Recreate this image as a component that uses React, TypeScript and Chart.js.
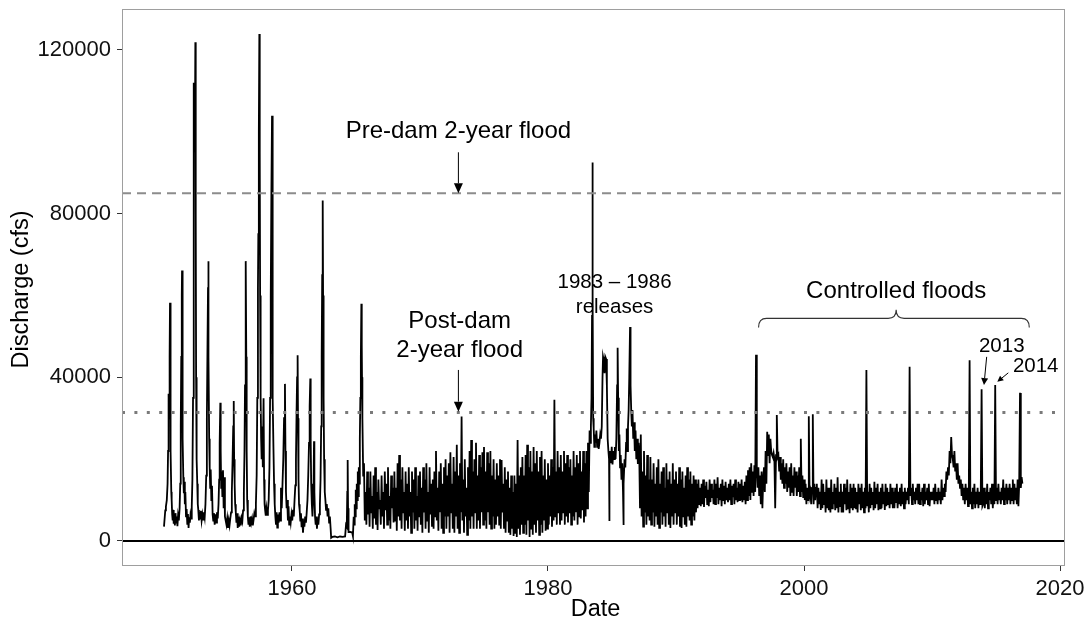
import React, { useEffect, useRef } from 'react';
import { Chart, registerables } from 'chart.js';

Chart.register(...registerables);

const FONT = "'Liberation Sans', Arial, Helvetica, sans-serif";

// ---- axes ----
const xTicks = [1960, 1980, 2000, 2020];
const yTicks = [0, 40000, 80000, 120000];
const xLimits = [1946.72, 2020.39];
const yLimits = [-6110, 130020];

// ---- reference lines (cfs) ----
const preDamTwoYearFlood = 85000;
const postDamTwoYearFlood = 31400;

// ---- discharge, thousand cfs ----
// pre-dam and reservoir filling: [year, kcfs]
const preDamFlow: [number, number][] = [
  [1950.00,3.5],[1950.05,5.5],[1950.10,7.5],[1950.15,8.4],[1950.22,10],[1950.28,14],[1950.32,22],[1950.36,36],[1950.40,30],[1950.44,45],[1950.47,58.2],[1950.50,40],[1950.53,22],[1950.57,12],[1950.60,10],[1950.64,6.5],[1950.68,5],[1950.72,7.6],[1950.76,4.2],[1950.80,6.5],[1950.85,3.8],[1950.90,6.8],[1950.95,4.5],
  [1951.00,6],[1951.05,3.6],[1951.10,6.2],[1951.16,5],[1951.22,8],[1951.27,14],[1951.31,28],[1951.35,45],[1951.39,60],[1951.41,66.1],[1951.44,45],[1951.47,25],[1951.51,15.6],[1951.55,11.7],[1951.59,14.5],[1951.63,9],[1951.67,12],[1951.72,6],[1951.77,7.8],[1951.82,4.2],[1951.87,6.6],[1951.92,3.2],[1951.97,5.8],
  [1952.02,4.5],[1952.07,6.4],[1952.12,5.5],[1952.17,8.5],[1952.22,15],[1952.27,35],[1952.31,70],[1952.34,112],[1952.37,100],[1952.41,95],[1952.45,121.9],[1952.48,80],[1952.51,40],[1952.55,20],[1952.60,14],[1952.64,9],[1952.68,7.6],[1952.73,5],[1952.78,7],[1952.83,5.5],[1952.88,7.4],[1952.94,5],
  [1953.00,6.5],[1953.06,5.2],[1953.12,7],[1953.18,5.8],[1953.24,9],[1953.30,16],[1953.35,30],[1953.40,48],[1953.44,62],[1953.46,68.4],[1953.49,45],[1953.53,25],[1953.57,18],[1953.61,13],[1953.65,17.5],[1953.70,10],[1953.75,13.5],[1953.80,6.5],[1953.85,5],[1953.90,6.8],[1953.96,4],
  [1954.02,6.5],[1954.08,4.5],[1954.14,7],[1954.20,5.5],[1954.26,9],[1954.31,15],[1954.35,24],[1954.40,33.8],[1954.43,22],[1954.47,13],[1954.51,17],[1954.56,11],[1954.61,17.3],[1954.66,8],[1954.71,15.6],[1954.76,6],[1954.82,5],[1954.88,4],[1954.94,5.5],
  [1955.00,3.2],[1955.06,5],[1955.12,3.8],[1955.18,5.5],[1955.24,7],[1955.30,12],[1955.36,20],[1955.41,28],[1955.45,34.2],[1955.48,20],[1955.52,14],[1955.56,9],[1955.61,7],[1955.66,4.5],[1955.71,6.8],[1955.76,3.2],[1955.82,6],[1955.88,3.5],[1955.94,5],
  [1956.00,3.8],[1956.06,5.6],[1956.12,4.8],[1956.18,7.5],[1956.24,12],[1956.29,22],[1956.33,38],[1956.37,55],[1956.40,68.4],[1956.43,45],[1956.46,22],[1956.50,10],[1956.55,6],[1956.60,4],[1956.65,5.8],[1956.70,3.5],[1956.76,6],[1956.82,4.5],[1956.88,5.5],[1956.94,3.8],
  [1957.00,5.2],[1957.06,6.8],[1957.12,6],[1957.18,9],[1957.24,16],[1957.29,35],[1957.34,61.8],[1957.37,75],[1957.41,100],[1957.45,123.9],[1957.48,95],[1957.51,60],[1957.55,35],[1957.59,25],[1957.63,20],[1957.67,28],[1957.72,18],[1957.78,34.9],[1957.82,15],[1957.86,9],[1957.90,7.6],[1957.95,6.2],
  [1958.00,8],[1958.06,6.4],[1958.12,7.5],[1958.18,10],[1958.24,18],[1958.29,35],[1958.34,60],[1958.39,85],[1958.44,103.9],[1958.47,70],[1958.51,35],[1958.55,23],[1958.60,14],[1958.65,9],[1958.70,6],[1958.75,4],[1958.80,7],[1958.85,3.3],[1958.90,6.5],[1958.96,4.5],
  [1959.02,7],[1959.08,5],[1959.14,13],[1959.20,8],[1959.26,14],[1959.32,20],[1959.38,30],[1959.45,38.4],[1959.49,22],[1959.53,12],[1959.58,8],[1959.63,10],[1959.68,5],[1959.73,8.5],[1959.78,4],[1959.84,6],[1959.90,4.5],[1959.96,6.5],
  [1960.02,5],[1960.08,7.6],[1960.14,6],[1960.20,10],[1960.26,13.6],[1960.31,20],[1960.36,32],[1960.40,40],[1960.44,45.4],[1960.47,30],[1960.51,15],[1960.55,9],[1960.60,7.5],[1960.65,5],[1960.70,6.8],[1960.75,3.4],[1960.80,5.5],[1960.86,2],[1960.92,5],[1960.97,3.5],
  [1961.03,6],[1961.09,4.5],[1961.15,7],[1961.21,10],[1961.27,16],[1961.33,24],[1961.38,33],[1961.43,39.7],[1961.46,25],[1961.50,14],[1961.55,9],[1961.60,6],[1961.65,10],[1961.69,15],[1961.72,24.4],[1961.75,12],[1961.80,6],[1961.85,4],[1961.90,6],[1961.95,3],
  [1962.00,5.5],[1962.06,4],[1962.12,6.5],[1962.18,9],[1962.23,15],[1962.28,28],[1962.32,45],[1962.36,65],[1962.40,83.2],[1962.43,60],[1962.47,35],[1962.51,20],[1962.56,12],[1962.61,10],[1962.66,7.6],[1962.72,9],[1962.78,6],[1962.84,8],[1962.90,4.5],[1962.96,6],
  [1963.02,3],[1963.06,0.8],[1963.15,1.0],[1963.35,1.1],[1963.55,0.9],[1963.75,1.1],[1963.95,1.0],[1964.15,1.1],[1964.22,3.9],[1964.28,3.5],[1964.32,12],[1964.35,19.8],[1964.38,8],[1964.42,2.2],[1964.55,2.2],[1964.70,2.1],[1964.76,1.2],[1964.82,5.9],[1964.86,4],[1964.90,9],[1964.94,6],[1964.98,12.5],
  [1965.02,8],[1965.06,14],[1965.10,10],[1965.14,17],[1965.18,11],[1965.22,18],[1965.26,14],[1965.30,25],[1965.34,35],[1965.38,45],[1965.42,58],[1965.45,48],[1965.47,40],
];

// post-dam hydropower fluctuations, every 1/16 year from 1965.5
const postDamStart = 1965.5;
const postDamStep = 1 / 16;
const postDamFlow = [
  30, 16, 19, 5, 12, 4, 17, 6.5,
  13, 3.5, 17, 7, 11, 3, 16, 5.5, 18, 4, 12, 2.7, 15, 8, 10, 4,
  16, 6, 12, 3, 17, 7.5, 14, 4, 18, 5, 11, 3, 16, 8, 13, 4.5,
  17, 5, 13, 2.5, 19, 6, 21, 5, 15, 3, 18, 7, 12, 2.5, 17, 5,
  14, 3, 18, 6, 12, 2, 17, 7, 15, 3, 18, 5, 11, 2.5, 16, 6,
  17, 4, 13, 2, 18, 7, 15, 3, 19, 5, 12, 2, 18, 6.5, 14, 3.5,
  15, 3, 17, 6, 22, 5, 13, 2.5, 17, 7, 19, 3, 14, 2, 18, 6,
  20, 3, 16, 6, 19, 2, 21.7, 7, 14, 3, 20.5, 2, 17, 6, 23.5, 3,
  16, 2, 19, 7, 30.4, 5, 15, 2, 20, 6, 13, 1.5, 18, 5, 22, 3,
  24.7, 6, 17, 3, 20, 7, 24, 3, 16, 5, 21, 3, 18, 7, 21.7, 4,
  23, 5, 17, 3, 21.7, 7, 19, 4, 22, 3, 16, 6, 20, 3, 15, 4,
  19, 6, 16, 4, 20, 3, 19.8, 7, 14, 3, 18, 2, 15, 5, 17, 2,
  13, 1.5, 16, 3, 12, 1.2, 16, 2, 14, 1, 24.7, 3, 16, 1.5, 18, 4,
  20.5, 2, 16, 4, 21, 1.5, 23.5, 5, 18, 1, 22, 3, 17, 1.5, 23, 4,
  19, 2, 22, 5, 17, 1.5, 20.5, 4, 22, 2, 16, 5, 20, 2.5, 15, 3,
  19, 4, 16, 6, 20, 3.5, 18, 5, 34.5, 6, 17, 4, 22, 6.8, 18, 4,
  21, 5, 17, 7, 22, 4, 19, 6, 21, 4.5, 18, 6.8, 20, 4, 16, 6,
  22, 5, 18, 7, 21, 4, 19, 6, 22, 5.5, 17, 7.5, 22, 4.5, 19, 6,
  22, 8, 24, 12,
];

// 1983 - 1986 high releases: [year, kcfs]
const releasesFlow: [number, number][] = [
  [1983.25,27],[1983.30,24],[1983.35,28],[1983.40,35],[1983.44,55],[1983.47,92.5],[1983.50,60],[1983.53,30],[1983.57,27.5],[1983.62,23],[1983.67,26],[1983.72,24],[1983.78,27],[1983.84,23],[1983.90,25],[1983.96,22.5],
  [1984.02,24],[1984.08,26],[1984.14,25],[1984.20,28],[1984.26,40],[1984.30,45],[1984.36,44],[1984.42,41],[1984.48,45],[1984.54,44.5],[1984.60,38],[1984.66,25],[1984.72,22],[1984.77,20],[1984.79,4.9],[1984.81,20],[1984.86,22],[1984.92,19],[1984.98,23],
  [1985.04,18.7],[1985.10,22],[1985.16,20],[1985.22,23],[1985.28,20],[1985.34,25],[1985.40,38],[1985.44,47.2],[1985.48,35],[1985.53,22],[1985.58,26],[1985.63,18],[1985.68,21],[1985.74,15],[1985.80,19],[1985.86,12],[1985.89,3.9],[1985.92,14],[1985.98,20],
  [1986.04,18],[1986.10,24],[1986.15,27.5],[1986.20,22],[1986.25,28],[1986.30,32],[1986.35,40],[1986.41,52.3],[1986.45,38],[1986.50,32],[1986.55,28],[1986.60,32],[1986.66,25],[1986.72,29],[1986.78,22],[1986.84,27],[1986.90,20],[1986.96,25],
  [1987.02,18.8],[1987.08,24],
];

// late 1980s to early 1996, every 1/16 year from 1987.125
const lateStart = 1987.125;
const lateStep = 1 / 16;
const lateFlow = [
  22, 8, 26, 6, 17, 3.5, 22, 7, 16, 4, 21, 6, 15, 5,
  20.5, 4, 15, 7, 19, 3.5, 14, 6, 18, 4, 20, 3.2, 14, 7, 17, 4,
  18, 6, 13, 3.5, 19, 7, 15, 4, 17, 3.2, 14, 6, 19, 4, 15, 7,
  17, 4, 14, 6, 18, 3.5, 15, 3.2, 17, 6, 13, 4, 16, 3.5, 18, 6,
  15, 5, 17, 4, 14, 6, 16, 5, 15, 7, 14, 8, 15, 9, 13, 8.5,
  14, 9, 15, 8.3, 13.5, 10.5, 14.5, 9, 12.5, 8.5, 15, 9.5, 14, 10.5, 12.5, 9,
  15, 9, 14, 10.5, 15.6, 9, 13, 10, 14, 8.5, 15, 10, 13.5, 9, 14.5, 10,
  13, 9.5, 14, 10, 15, 9, 13.5, 10.7, 14, 9, 15, 10, 13, 9.5, 14.5, 10,
  14, 10, 15, 9.5, 13.5, 10, 14.5, 9, 16, 10, 17.3, 11, 18, 10, 19, 12,
  17, 11, 18.5, 12,
];

// controlled-flood era, every 1/16 year from 1996.25
const floodEraStart = 1996.25;
const floodEraStep = 1 / 16;
const floodEraFlow = [
  45.5, 17, 13, 18, 11, 16, 9, 17, 8, 15, 18, 12,
  22, 14, 26.7, 21, 26, 19, 25, 22, 21, 20.5, 21.5, 20, 8, 21, 30.8, 20.5,
  21, 17, 20.5, 15, 19, 14, 20, 13, 18, 14, 19, 12, 17, 13, 18, 11,
  19, 12, 16, 11, 18, 13, 17, 11, 16, 12, 18, 11, 25, 12, 16, 10.5,
  15, 10, 14, 9, 13, 10, 30.5, 11, 12, 9, 13, 31, 9, 14, 10, 13,
  14, 8, 13, 9, 12, 7.6, 15, 8, 14, 9, 12, 7, 15, 8, 13, 7.5,
  13, 7, 15, 8, 12, 9, 14, 7.5, 13, 8, 15.6, 7, 12, 8.5, 14, 7,
  12, 7, 14, 9, 13, 7.5, 15, 8, 12, 6.8, 14, 8, 13, 7.5, 14, 8,
  13, 8, 12, 7, 14, 9, 13, 7.5, 14, 8, 12, 7, 13, 8, 41.8, 8.5,
  12, 7, 14, 8, 13, 9, 12, 7.5, 14.5, 8, 13, 9, 14, 7.5, 12, 8,
  13, 8, 14, 9, 12, 7.6, 14, 8.5, 13, 9, 12, 8, 14, 9, 13, 8,
  12, 8, 13, 9.5, 14, 8, 12, 9, 13, 8.5, 14, 9, 12, 8, 13, 9,
  12, 10, 13, 9, 42.6, 11, 13, 9, 14, 10, 12, 9, 13, 10, 14, 9,
  14, 9, 12, 10, 13, 8.5, 14, 9, 12, 10, 13, 9, 14, 8.5, 12, 10,
  12, 10, 13, 9, 14, 10, 12, 9, 13, 10, 12, 9, 15, 10, 13, 11,
  14, 12, 17, 15, 18, 16, 22, 19, 25.4, 21, 20, 18, 22, 17, 19, 15,
  19, 14, 16, 13, 15, 11, 14, 10, 13, 9, 14, 10, 13, 8.5, 12, 44.2,
  9, 12, 8, 13, 9, 14, 8, 12, 9, 13, 8, 12, 9, 13, 37.1, 8.5,
  9, 13, 8, 12, 9, 14, 8, 12, 10, 13, 9, 14, 8, 12, 9, 38.1,
  10, 13, 9, 14, 10, 12, 9, 13, 10, 15, 9, 13, 10, 14, 9, 13,
  10, 14, 9, 13, 10, 15, 9, 14, 10, 13, 9, 15, 8.5, 14, 36.2, 13,
  15.6, 14,
];

// ---- annotations (data coordinates) ----
const textNotes = [
  { text: 'Pre-dam 2-year flood', year: 1973.0, value: 98500, size: 24 },
  { text: 'Post-dam', year: 1973.1, value: 52000, size: 24 },
  { text: '2-year flood', year: 1973.1, value: 45000, size: 24 },
  { text: '1983 \u2013 1986', year: 1985.2, value: 61800, size: 20.5 },
  { text: 'releases', year: 1985.2, value: 55700, size: 20.5 },
  { text: 'Controlled floods', year: 2007.2, value: 59400, size: 24 },
  { text: '2013', year: 2015.45, value: 46200, size: 20.5 },
  { text: '2014', year: 2018.1, value: 41400, size: 20.5 },
];
const arrowNotes = [
  { x1: 1973.0, y1: 95000, x2: 1973.0, y2: 85000, len: 10, half: 4.5 },
  { x1: 1973.0, y1: 41800, x2: 1973.0, y2: 31600, len: 10, half: 4.5 },
  { x1: 2014.27, y1: 45000, x2: 2014.06, y2: 38100, len: 7, half: 3.5 },
  { x1: 2015.96, y1: 41100, x2: 2015.1, y2: 38900, len: 6, half: 3 },
];
const brace = { left: 1996.45, right: 2017.6, mid: 2007.2, end: 52200, bar: 54400, tip: 56500 };

function buildSeries() {
  const pts: { x: number; y: number }[] = [];
  preDamFlow.forEach(([yr, v]) => pts.push({ x: yr, y: v * 1000 }));
  postDamFlow.forEach((v, i) => pts.push({ x: postDamStart + i * postDamStep, y: v * 1000 }));
  releasesFlow.forEach(([yr, v]) => pts.push({ x: yr, y: v * 1000 }));
  lateFlow.forEach((v, i) => pts.push({ x: lateStart + i * lateStep, y: v * 1000 }));
  floodEraFlow.forEach((v, i) => pts.push({ x: floodEraStart + i * floodEraStep, y: v * 1000 }));
  return pts;
}

function drawArrow(ctx: CanvasRenderingContext2D, x1: number, y1: number, x2: number, y2: number, len: number, half: number) {
  const ang = Math.atan2(y2 - y1, x2 - x1);
  const bx = x2 - len * Math.cos(ang);
  const by = y2 - len * Math.sin(ang);
  ctx.beginPath();
  ctx.moveTo(x1, y1);
  ctx.lineTo(bx, by);
  ctx.stroke();
  ctx.beginPath();
  ctx.moveTo(x2, y2);
  ctx.lineTo(bx + half * Math.sin(ang), by - half * Math.cos(ang));
  ctx.lineTo(bx - half * Math.sin(ang), by + half * Math.cos(ang));
  ctx.closePath();
  ctx.fill();
}

const decorPlugin = {
  id: 'decor',
  afterDatasetsDraw(chart: any) {
    const { ctx, chartArea, scales } = chart;
    const px = (v: number) => scales.x.getPixelForValue(v);
    const py = (v: number) => scales.y.getPixelForValue(v);
    ctx.save();
    // panel border
    ctx.strokeStyle = '#9e9e9e';
    ctx.lineWidth = 1;
    ctx.strokeRect(chartArea.left + 0.5, chartArea.top + 0.5, chartArea.right - chartArea.left - 1, chartArea.bottom - chartArea.top - 1);

    // texts
    ctx.fillStyle = '#000';
    ctx.textAlign = 'center';
    ctx.textBaseline = 'alphabetic';
    textNotes.forEach((t) => {
      ctx.font = `${t.size}px ${FONT}`;
      ctx.fillText(t.text, px(t.year), py(t.value));
    });

    // arrows
    ctx.strokeStyle = '#000';
    ctx.lineWidth = 1;
    arrowNotes.forEach((a) => drawArrow(ctx, px(a.x1), py(a.y1), px(a.x2), py(a.y2), a.len, a.half));

    // brace
    const L = px(brace.left), R = px(brace.right), M = px(brace.mid);
    const yE = py(brace.end), yB = py(brace.bar), yT = py(brace.tip);
    const r = 8;
    ctx.strokeStyle = '#333';
    ctx.lineWidth = 1.1;
    ctx.beginPath();
    ctx.moveTo(L, yE);
    ctx.quadraticCurveTo(L, yB, L + r, yB);
    ctx.lineTo(M - r, yB);
    ctx.quadraticCurveTo(M, yB, M, yT);
    ctx.quadraticCurveTo(M, yB, M + r, yB);
    ctx.lineTo(R - r, yB);
    ctx.quadraticCurveTo(R, yB, R, yE);
    ctx.stroke();

    // axis titles
    ctx.fillStyle = '#000';
    ctx.font = `23.5px ${FONT}`;
    ctx.textAlign = 'center';
    ctx.textBaseline = 'alphabetic';
    ctx.fillText('Date', (chartArea.left + chartArea.right) / 2 + 2, 616);
    ctx.save();
    ctx.translate(21.5, (chartArea.top + chartArea.bottom) / 2 + 2);
    ctx.rotate(-Math.PI / 2);
    ctx.textBaseline = 'middle';
    ctx.fillText('Discharge (cfs)', 0, 0);
    ctx.restore();
    ctx.restore();
  },
};

export default function App() {
  const ref = useRef<HTMLCanvasElement>(null);
  useEffect(() => {
    if (!ref.current) return;
    const series = buildSeries();
    const chart = new Chart(ref.current, {
      type: 'scatter',
      data: {
        datasets: [
          {
            data: [{ x: xLimits[0], y: preDamTwoYearFlood }, { x: xLimits[1], y: preDamTwoYearFlood }],
            showLine: true, borderColor: '#8c8c8c', borderWidth: 2, borderDash: [9, 6], pointRadius: 0,
          },
          {
            data: [{ x: xLimits[0], y: postDamTwoYearFlood }, { x: xLimits[1], y: postDamTwoYearFlood }],
            showLine: true, borderColor: '#7a7a7a', borderWidth: 3, borderDash: [3, 9.4], pointRadius: 0,
          },
          {
            data: [{ x: xLimits[0], y: 0 }, { x: xLimits[1], y: 0 }],
            showLine: true, borderColor: '#000', borderWidth: 2, pointRadius: 0,
          },
          {
            data: series,
            showLine: true, borderColor: '#000', borderWidth: 1.8, pointRadius: 0, tension: 0,
          },
        ],
      },
      options: {
        responsive: false,
        devicePixelRatio: 1,
        animation: false,
        events: [],
        layout: { padding: { left: 0, top: 9, right: 27, bottom: 0 } },
        plugins: { legend: { display: false }, tooltip: { enabled: false } },
        scales: {
          x: {
            type: 'linear',
            min: xLimits[0],
            max: xLimits[1],
            afterBuildTicks: (s: any) => { s.ticks = xTicks.map((v) => ({ value: v })); },
            afterFit: (s: any) => { s.height = 60; s.paddingLeft = 0; s.paddingRight = 0; },
            grid: { display: true, drawOnChartArea: false, drawTicks: true, tickLength: 5, color: '#333', lineWidth: 1 },
            border: { display: false },
            ticks: { font: { family: FONT, size: 22 }, color: '#111', padding: 5, maxRotation: 0, autoSkip: false, callback: (v: any) => String(v) },
          },
          y: {
            type: 'linear',
            min: yLimits[0],
            max: yLimits[1],
            afterBuildTicks: (s: any) => { s.ticks = yTicks.map((v) => ({ value: v })); },
            afterFit: (s: any) => { s.width = 122; s.paddingTop = 0; s.paddingBottom = 0; },
            grid: { display: true, drawOnChartArea: false, drawTicks: true, tickLength: 5, color: '#333', lineWidth: 1 },
            border: { display: false },
            ticks: { font: { family: FONT, size: 22 }, color: '#111', padding: 6, autoSkip: false, callback: (v: any) => String(v) },
          },
        },
      },
      plugins: [decorPlugin],
    } as any);
    return () => chart.destroy();
  }, []);
  return (
    <div style={{ position: 'absolute', left: 0, top: 0, width: 1092, height: 626, background: '#fff' }}>
      <canvas ref={ref} width={1092} height={626} style={{ width: 1092, height: 626, display: 'block' }} />
    </div>
  );
}
